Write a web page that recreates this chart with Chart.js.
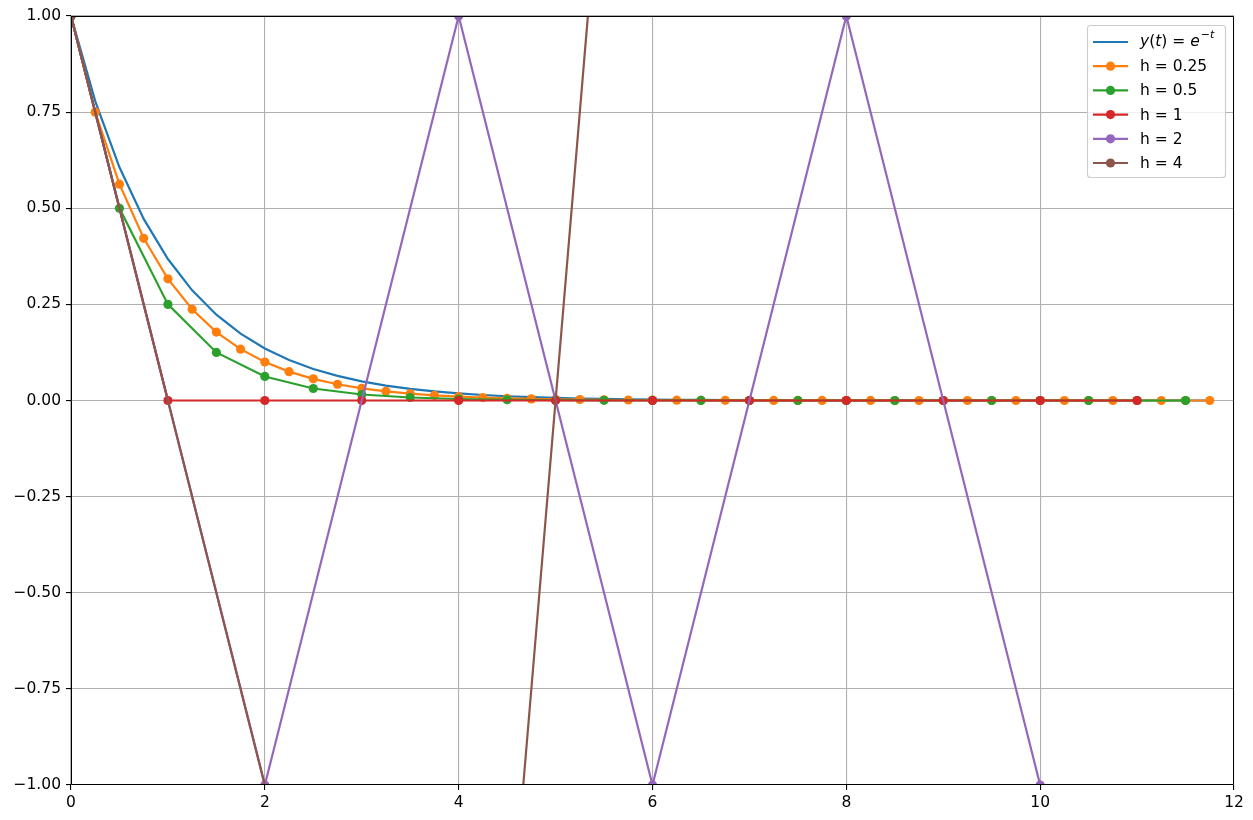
<!DOCTYPE html>
<html>
<head>
<meta charset="utf-8">
<script src="https://cdn.jsdelivr.net/npm/chart.js@4/dist/chart.umd.min.js"></script>
<style>
  html, body { margin: 0; padding: 0; background: #fff; }
  canvas { display: block; }
</style>
</head>
<body>
<canvas id="c" width="1253" height="820"></canvas>
<script>
// ---- data ----
const tQuarter = [0,0.25,0.5,0.75,1,1.25,1.5,1.75,2,2.25,2.5,2.75,3,3.25,3.5,3.75,4,4.25,4.5,4.75,5,5.25,5.5,5.75,6,6.25,6.5,6.75,7,7.25,7.5,7.75,8,8.25,8.5,8.75,9,9.25,9.5,9.75,10,10.25,10.5,10.75,11,11.25,11.5,11.75];
const exactY = [1,0.7788,0.6065,0.4724,0.3679,0.2865,0.2231,0.1738,0.1353,0.1054,0.0821,0.0639,0.0498,0.0388,0.0302,0.0235,0.0183,0.0143,0.0111,0.0087,0.0067,0.0052,0.0041,0.0032,0.0025,0.0019,0.0015,0.0012,0.0009,0.0007,0.00055,0.00043,0.00034,0.00026,0.0002,0.00016,0.00012,0.0001,0.000075,0.000058,0.000045,0.000035,0.000028,0.000021,0.000017,0.000013,0.00001,0.000008];
const h025Y = [1,0.75,0.5625,0.421875,0.316406,0.237305,0.177979,0.133484,0.100113,0.075085,0.056314,0.042235,0.031676,0.023757,0.017818,0.013363,0.010023,0.007517,0.005638,0.004228,0.003171,0.002378,0.001784,0.001338,0.001003,0.000753,0.000564,0.000423,0.000317,0.000238,0.000179,0.000134,0.0001,0.000075,0.000057,0.000042,0.000032,0.000024,0.000018,0.000013,0.00001,0.0000075,0.000006,0.000004,0.000003,0.000002,0.000002,0.000001];
const tHalf = [0,0.5,1,1.5,2,2.5,3,3.5,4,4.5,5,5.5,6,6.5,7,7.5,8,8.5,9,9.5,10,10.5,11,11.5];
const h05Y = [1,0.5,0.25,0.125,0.0625,0.03125,0.015625,0.0078125,0.0039063,0.0019531,0.0009766,0.0004883,0.0002441,0.0001221,0.000061,0.0000305,0.0000153,0.0000076,0.0000038,0.0000019,0.000001,0.0000005,0.0000002,0.0000001];
const tOne = [0,1,2,3,4,5,6,7,8,9,10,11];
const h1Y = [1,0,0,0,0,0,0,0,0,0,0,0];
const tTwo = [0,2,4,6,8,10];
const h2Y = [1,-1,1,-1,1,-1];
const tFour = [0,4,8];
const h4Y = [1,-3,9];
const xTicks = [0,2,4,6,8,10,12];
const yTicks = [-1,-0.75,-0.5,-0.25,0,0.25,0.5,0.75,1];
const seriesLabels = ['y(t) = e^{-t}', 'h = 0.25', 'h = 0.5', 'h = 1', 'h = 2', 'h = 4'];
const colors = ['#1f77b4','#ff7f0e','#2ca02c','#d62728','#9467bd','#8c564b'];

const pts = (xs, ys) => xs.map((x, i) => ({x: x, y: ys[i]}));
const seriesData = [
  pts(tQuarter, exactY),
  pts(tQuarter, h025Y),
  pts(tHalf, h05Y),
  pts(tOne, h1Y),
  pts(tTwo, h2Y),
  pts(tFour, h4Y)
];

const FONT = 'DejaVu Sans';
const FS = 15.5;
const MR = 4.6;
const datasets = seriesData.map((d, i) => ({
  label: seriesLabels[i],
  data: d,
  borderColor: colors[i],
  backgroundColor: colors[i],
  borderWidth: 2.2,
  pointRadius: i === 0 ? 0 : MR,
  pointBorderWidth: 0,
  pointBackgroundColor: colors[i],
  pointHoverRadius: 0,
  tension: 0,
  clip: 0,
  order: 10 - i,
  showLine: true,
  fill: false
}));

const fmt = v => {
  const s = Math.abs(v).toFixed(2);
  return (v < 0 ? '\u2212' : '') + s;
};

const decor = {
  id: 'decor',
  afterDraw(chart) {
    const ctx = chart.ctx;
    const a = chart.chartArea;
    ctx.save();
    // spines
    ctx.strokeStyle = '#000';
    ctx.lineWidth = 1;
    ctx.beginPath();
    const l = Math.round(a.left) + 0.5, t = Math.round(a.top) + 0.5;
    const rr = Math.round(a.right) - 0.5, b = Math.round(a.bottom) - 0.5;
    ctx.rect(l, t, rr - l, b - t);
    ctx.stroke();

    // legend
    const bx = 1087, by = 25, bw = 138, bh = 152, r = 3;
    ctx.globalAlpha = 0.8;
    ctx.fillStyle = '#fff';
    ctx.beginPath();
    ctx.roundRect(bx + 0.5, by + 0.5, bw, bh, r);
    ctx.fill();
    ctx.globalAlpha = 1;
    ctx.strokeStyle = '#cccccc';
    ctx.lineWidth = 1.1;
    ctx.stroke();

    const rowY0 = 42, rowStep = 24.2;
    for (let i = 0; i < seriesLabels.length; i++) {
      const y = rowY0 + i * rowStep;
      ctx.strokeStyle = colors[i];
      ctx.lineWidth = 2.2;
      ctx.beginPath();
      ctx.moveTo(1093, y);
      ctx.lineTo(1128, y);
      ctx.stroke();
      if (i > 0) {
        ctx.fillStyle = colors[i];
        ctx.beginPath();
        ctx.arc(1110.5, y, MR, 0, Math.PI * 2);
        ctx.fill();
      }
      ctx.fillStyle = '#000';
      ctx.textBaseline = 'middle';
      ctx.textAlign = 'left';
      if (i === 0) {
        let x = 1140;
        const parts = [
          ['italic ' + FS + 'px "' + FONT + '"', 'y', 0],
          [FS + 'px "' + FONT + '"', '(', 0],
          ['italic ' + FS + 'px "' + FONT + '"', 't', 0],
          [FS + 'px "' + FONT + '"', ') = ', 0],
          ['italic ' + FS + 'px "' + FONT + '"', 'e', 0],
          ['11px "' + FONT + '"', '\u2212', -7],
          ['italic 11px "' + FONT + '"', 't', -7]
        ];
        for (const [f, s, dy] of parts) {
          ctx.font = f;
          ctx.fillText(s, x, y + dy);
          x += ctx.measureText(s).width + (s === 'e' ? 1 : 0);
        }
      } else {
        ctx.font = FS + 'px "' + FONT + '"';
        ctx.fillText(seriesLabels[i], 1140, y + 1);
      }
    }
    ctx.restore();
  }
};

new Chart(document.getElementById('c'), {
  type: 'line',
  data: { datasets: datasets },
  options: {
    responsive: false,
    animation: false,
    events: [],
    layout: { padding: { left: 0, right: 19, top: 16, bottom: 0 } },
    plugins: { legend: { display: false }, tooltip: { enabled: false } },
    scales: {
      x: {
        type: 'linear',
        min: 0, max: 12,
        afterFit: s => { s.height = 35; },
        afterBuildTicks: s => { s.ticks = xTicks.map(v => ({value: v})); },
        ticks: { color: '#000', font: { family: FONT, size: FS }, padding: 4, maxRotation: 0, autoSkip: false, callback: v => String(v) },
        grid: { color: '#b0b0b0', lineWidth: 1.1, tickColor: '#000', tickLength: 5, tickWidth: 1.1 },
        border: { display: false }
      },
      y: {
        type: 'linear',
        min: -1, max: 1,
        afterFit: s => { s.width = 71; },
        afterBuildTicks: s => { s.ticks = yTicks.map(v => ({value: v})); },
        ticks: { color: '#000', font: { family: FONT, size: FS }, padding: 5, autoSkip: false, callback: v => fmt(v) },
        grid: { color: '#b0b0b0', lineWidth: 1.1, tickColor: '#000', tickLength: 5, tickWidth: 1.1 },
        border: { display: false }
      }
    }
  },
  plugins: [decor]
});
</script>
</body>
</html>
